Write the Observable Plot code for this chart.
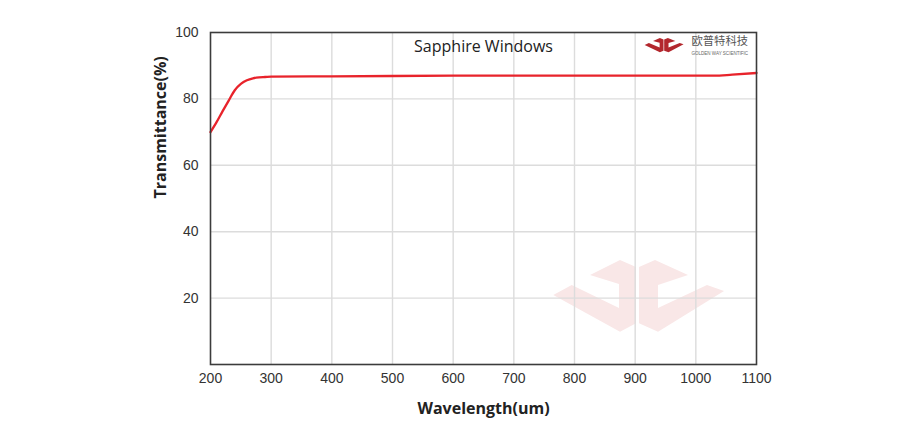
<!DOCTYPE html>
<html>
<head>
<meta charset="utf-8">
<script src="https://cdn.jsdelivr.net/npm/d3@7"></script>
<script src="https://cdn.jsdelivr.net/npm/@observablehq/plot@0.6"></script>
<style>
  html, body { margin: 0; padding: 0; background: #fff; }
  #chart { width: 924px; height: 440px; position: relative; }
</style>
</head>
<body>
<div id="chart"></div>
<script>
// Data
const wavelength = [200, 210, 220, 230, 240, 250, 260, 270, 280, 290, 300, 400, 500, 600, 700, 800, 900, 1000, 1030, 1060, 1100];
const transmittance = [70, 73, 76.3, 79.5, 82.6, 84.5, 85.6, 86.2, 86.5, 86.6, 86.7, 86.8, 86.9, 87, 87, 87, 87, 87, 87.0, 87.3, 87.8];
const xTicks = [200, 300, 400, 500, 600, 700, 800, 900, 1000, 1100];
const yTicks = [20, 40, 60, 80, 100];
const title = "Sapphire Windows";
const xLabel = "Wavelength(um)";
const yLabel = "Transmittance(%)";

const data = wavelength.map((w, i) => ({w, t: transmittance[i]}));

const chart = Plot.plot({
  width: 924,
  height: 440,
  marginLeft: 210,
  marginRight: 168,
  marginTop: 32,
  marginBottom: 76,
  style: {fontFamily: "Liberation Sans, Arial, sans-serif", fontSize: "14px", color: "#333", background: "#fff"},
  x: {domain: [200, 1100], ticks: xTicks, tickFormat: d => String(d), tickSize: 0, tickPadding: 9, label: null},
  y: {domain: [0, 100], ticks: yTicks, tickFormat: d => String(d), tickSize: 0, tickPadding: 12, label: null},
  marks: [
    Plot.ruleX(xTicks.slice(1, -1), {stroke: "#dcdcdc", strokeWidth: 1.4}),
    Plot.ruleY(yTicks.slice(0, -1), {stroke: "#dcdcdc", strokeWidth: 1.4}),
    Plot.line(data, {x: "w", y: "t", stroke: "#e8232b", strokeWidth: 2.3, curve: "monotone-x"}),
    Plot.frame({stroke: "#3c3c3c", strokeWidth: 1.6}),
    Plot.text([title], {frameAnchor: "top", dy: 14, fontFamily: "Open Sans, Noto Sans, sans-serif", fontSize: 16, fill: "#222", lineAnchor: "middle"}),
    Plot.text([xLabel], {frameAnchor: "bottom", dy: 44, fontFamily: "Open Sans, Noto Sans, sans-serif", fontWeight: "bold", fontSize: 16, fill: "#222", lineAnchor: "middle"}),
    Plot.text([yLabel], {frameAnchor: "left", dx: -50, rotate: -90, fontFamily: "Open Sans, Noto Sans, sans-serif", fontWeight: "bold", fontSize: 16, fill: "#222", lineAnchor: "middle"})
  ]
});

document.getElementById("chart").appendChild(chart);

// Decorative watermark and logo (not data)
const svg = d3.select(chart);
const leftPiece = [[636,267],[620,260],[590,275],[619,284],[619,308],[571.7,285],[553.3,295],[620,331.7],[636,323.3]];
const rightPiece = [[639,267],[655,260],[688,275],[658,285],[658,308],[707,285],[724,291],[658,331.7],[639,323.3]];
const pts = p => p.map(d => d.join(",")).join(" ");

const wmNode = document.createElementNS("http://www.w3.org/2000/svg", "g");
chart.insertBefore(wmNode, chart.firstChild);
const wm = d3.select(wmNode);
[leftPiece, rightPiece].forEach(p => wm.append("polygon").attr("points", pts(p)).attr("fill", "#f9e7e7"));

const logo = svg.append("g").attr("transform", "translate(518.5,-14) scale(0.228,0.2)");
[leftPiece, rightPiece].forEach(p => logo.append("polygon").attr("points", pts(p)).attr("fill", "#b3272d"));

svg.append("text").attr("x", 691.5).attr("y", 45).attr("text-anchor", "start").attr("font-family", "Noto Sans CJK SC, sans-serif")
  .attr("font-size", 11.5).attr("fill", "#555").attr("textLength", 56.5).attr("lengthAdjust", "spacingAndGlyphs").text("欧普特科技");
svg.append("text").attr("x", 691.5).attr("y", 54.5).attr("text-anchor", "start").attr("font-family", "Liberation Sans, Arial, sans-serif")
  .attr("font-size", 4.6).attr("fill", "#666").attr("textLength", 56.5).attr("lengthAdjust", "spacingAndGlyphs").text("GOLDEN WAY SCIENTIFIC");
</script>
</body>
</html>
